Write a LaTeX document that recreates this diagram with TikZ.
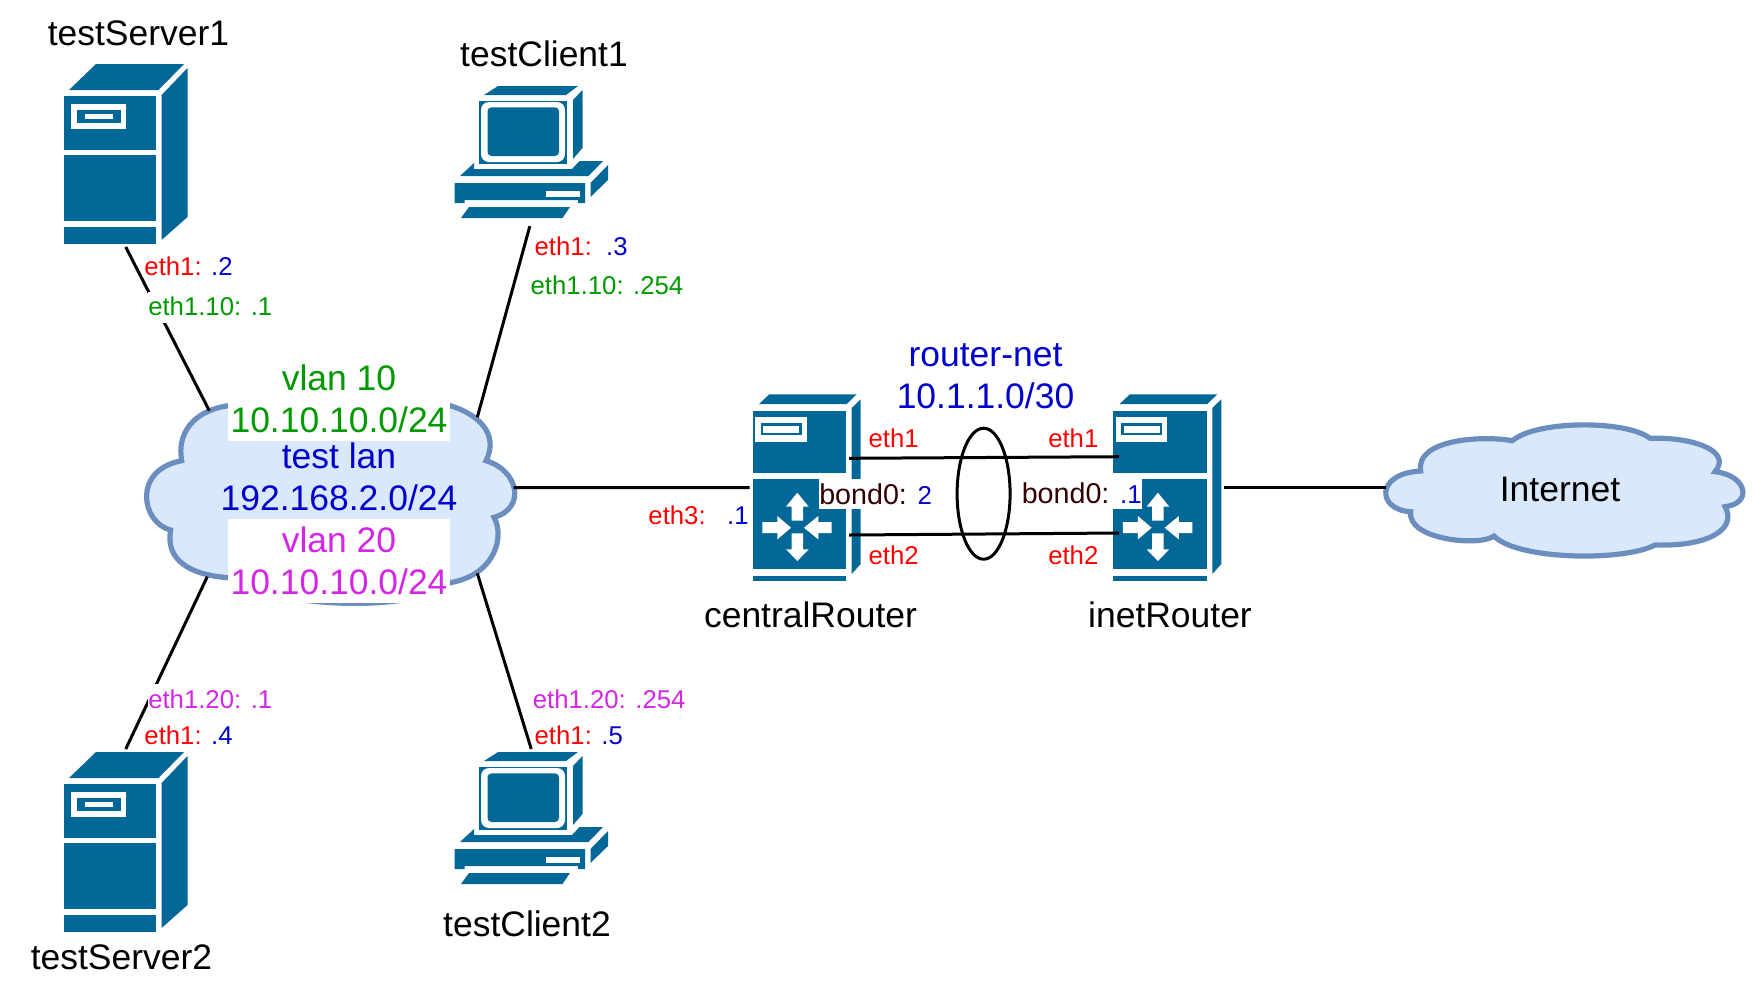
\documentclass[tikz,border=0pt]{standalone}
\usepackage{fontspec}
\setmainfont{Liberation Sans}
\definecolor{iconblue}{HTML}{036897}
\definecolor{cloudfill}{HTML}{DAE8FC}
\definecolor{cloudline}{HTML}{6C8EBF}
\definecolor{netgreen}{HTML}{009900}
\definecolor{netblue}{HTML}{0000CC}
\definecolor{netpink}{HTML}{D326E6}
\definecolor{bonddark}{HTML}{330000}
\newcommand{\bondvalue}[1]{\textcolor{netblue}{\fontsize{19.4pt}{23pt}\selectfont #1}}
\tikzset{
    link/.style={line width=2.25pt,black},
    cloudshape/.style={line width=3.9pt,draw=cloudline,fill=cloudfill},
    devbox/.style={inner sep=0pt,outer sep=2.25pt,minimum width=#1},
    bigtext/.style={inner sep=0pt,anchor=base,font=\fontsize{26.6pt}{30pt}\selectfont},
    smalltext/.style={inner sep=0pt,anchor=base west,font=\fontsize{19.3pt}{23pt}\selectfont},
    bondtext/.style={inner sep=0pt,anchor=base west,font=\fontsize{21.5pt}{25pt}\selectfont,fill=white,
        text height=18.4pt,text depth=3.75pt},
    server/.pic={
        \fill[iconblue] (5,26) -- (32,0) -- (120,0) -- (94.5,26) -- cycle;
        \fill[iconblue] (0,32) rectangle (92,86);
        \fill[iconblue] (0,91) rectangle (92,157);
        \fill[iconblue] (0,163) rectangle (92,180);
        \fill[iconblue] (97.6,31) -- (123.5,4) -- (123.5,153) -- (97.6,176) -- cycle;
        \fill[white] (7,40) rectangle (62,65);
        \fill[iconblue] (13,46) rectangle (56.5,58.7);
        \fill[white] (21,50) rectangle (48.5,55);
    },
    client/.pic={
        \fill[iconblue] (29.5,9) -- (43.5,0) -- (123.5,0) -- (111.5,9) -- cycle;
        \fill[iconblue] (24.5,15) rectangle (112.5,77.5);
        \fill[white,rounded corners=6pt] (26.5,16) rectangle (110.5,76);
        \fill[iconblue,rounded corners=3pt] (33,21.3) rectangle (104.5,70);
        \fill[iconblue] (118.5,14) -- (128,4) -- (128,62) -- (118.5,73) -- cycle;
        \fill[iconblue] (5.5,90) -- (19.5,77) -- (19.5,83) -- (117.5,83) -- (125,75) -- (148.5,75) -- (134,90) -- cycle;
        \fill[iconblue] (0,97) -- (130.5,97) -- (130.5,117) -- (123.5,117) -- (123.5,114) -- (10,114) -- (10,117) -- (0,117) -- cycle;
        \fill[white] (91,105) rectangle (125.5,111);
        \fill[iconblue] (136,97) -- (153.5,79) -- (153.5,94) -- (136,111) -- cycle;
        \fill[iconblue] (14.5,121) -- (115.5,121) -- (108,132) -- (6.5,132) -- cycle;
    },
    router/.pic={
        \fill[iconblue] (6.3,10) -- (16.6,0.3) -- (104,0.3) -- (94,10) -- cycle;
        \fill[iconblue] (0,16.7) rectangle (93.3,79.3);
        \fill[iconblue] (0,85.3) rectangle (93.3,175.3);
        \fill[iconblue] (0,181.7) rectangle (93.3,186.7);
        \fill[iconblue] (99,14) -- (108,5.3) -- (108,170) -- (99,180) -- cycle;
        \fill[white] (2.3,22.7) rectangle (54,47.7);
        \fill[iconblue] (8,29.3) rectangle (49,41);
        \fill[white] (10.6,32) rectangle (46.6,38.7);
        % four arrows
        \fill[white] (44.6,98.7) -- (56,112.7) -- (50.4,112.7) -- (50.4,126.7) -- (38.8,126.7) -- (38.8,112.7) -- (33.3,112.7) -- cycle;
        \fill[white] (38.8,139.3) -- (50.4,139.3) -- (50.4,155.3) -- (56,155.3) -- (44.6,167) -- (33.3,155.3) -- (38.8,155.3) -- cycle;
        \fill[white] (9.6,128.2) -- (24.6,128.2) -- (24.6,122) -- (38.3,133.7) -- (24.6,145.4) -- (24.6,139.2) -- (9.6,139.2) -- cycle;
        \fill[white] (51.3,133.7) -- (65.6,122) -- (65.6,128.2) -- (79,128.2) -- (79,139.2) -- (65.6,139.2) -- (65.6,145.4) -- cycle;
    },
}
\begin{document}
\begin{tikzpicture}[x=0.75pt,y=0.75pt,yscale=-1,xscale=1]
    \useasboundingbox (0,0) rectangle (1755,990);

    % clouds
    \draw[cloudshape] (181.7,460.7) .. controls (176.7,433.3) and (193.3,410.7) .. (228.3,405.7)
        .. controls (270,375) and (410,375) .. (450,405.7)
        .. controls (476.7,413.3) and (500,433.3) .. (486,460.7)
        .. controls (518.3,470) and (526.7,508.3) .. (494,517.3)
        .. controls (505,536.7) and (495,575) .. (450,582.7)
        .. controls (420,612) and (280,610) .. (228.3,577.7)
        .. controls (190,575) and (165,560) .. (170.7,530)
        .. controls (141.7,523.3) and (131.7,470) .. (181.7,460.7) -- cycle;
    \draw[cloudshape] (1420.7,471) .. controls (1415,440) and (1480,435) .. (1512.3,440.7)
        .. controls (1536.7,420) and (1626.7,420) .. (1650,438.3)
        .. controls (1690,436.7) and (1733.3,450) .. (1715,471.7)
        .. controls (1746.7,475) and (1753.3,503.3) .. (1725,506.7)
        .. controls (1736.7,526.7) and (1713.3,546.7) .. (1655,545)
        .. controls (1623.3,561.7) and (1516.7,560) .. (1494,536)
        .. controls (1480,546.7) and (1406.7,540) .. (1410.7,511.7)
        .. controls (1376.7,510) and (1375,473.3) .. (1420.7,471) -- cycle;

    % device boxes
    \node[devbox=92.6pt,minimum height=135pt] (testServer1) at (125.75,154) {};
    \node[devbox=92.6pt,minimum height=135pt] (testServer2) at (125.75,842) {};
    \node[devbox=115pt,minimum height=99pt] (testClient1) at (531.25,152) {};
    \node[devbox=115pt,minimum height=99pt] (testClient2) at (531.25,818) {};
    \node[devbox=81pt,minimum height=140.25pt] (centralRouter) at (806.7,487.5) {};
    \node[devbox=81pt,minimum height=140.25pt] (inetRouter) at (1167.3,487.5) {};
    \node[inner sep=0pt,minimum width=275pt,minimum height=174pt] (testLan) at (329.9,487.7) {};
    \node[inner sep=0pt,minimum width=271pt,minimum height=100pt] (internet) at (1567,487.5) {};

    % ports
    \coordinate (lanNW) at (209.3,410.7);
    \coordinate (lanNE) at (477.3,417.3);
    \coordinate (lanSW) at (207.3,576.7);
    \coordinate (lanSE) at (477.3,573.3);
    \coordinate (centralEth1) at (849,458.3);
    \coordinate (centralEth2) at (849,535);
    \coordinate (inetEth1) at (1119,456.7);
    \coordinate (inetEth2) at (1119,533);

    % links
    \draw[link] (testServer1.south) -- (lanNW);
    \draw[link,shorten <=4pt] (testClient1.south) -- (lanNE);
    \draw[link] (testServer2.north) -- (lanSW);
    \draw[link] (testClient2.north) -- (lanSE);
    \draw[link] (testLan.east) -- (centralRouter.west);
    \draw[link] (inetRouter.east) -- (internet.west);

    % icons
    \pic[yscale=-1] at (64,64) {server};
    \pic[yscale=-1] at (64,752) {server};
    \pic[yscale=-1] at (454.5,86) {client};
    \pic[yscale=-1] at (454.5,752) {client};
    \pic[yscale=-1] at (752.7,394) {router};
    \pic[yscale=-1] at (1113.3,394) {router};

    \draw[link] (centralEth1) -- (inetEth1);
    \draw[link] (centralEth2) -- (inetEth2);
    \draw[link] (983.6,493.7) ellipse (26.5 and 65.5);

    % host names
    \node[bigtext] (nameServer1) at (138.5,45.5) {testServer1};
    \node[bigtext] (nameClient1) at (544,66.7) {testClient1};
    \node[bigtext] (nameServer2) at (121.5,969.5) {testServer2};
    \node[bigtext] (nameClient2) at (527,936.5) {testClient2};
    \node[bigtext] (nameCentral) at (810.5,627) {centralRouter};
    \node[bigtext] (nameInet) at (1170,627) {inetRouter};
    \node[bigtext] (nameInternet) at (1560,501.7) {Internet};

    % networks
    \node[bigtext,text=netblue] (routerNet) at (985.5,366) {router-net};
    \node[bigtext,text=netblue] (routerNetAddr) at (985.5,408.3) {10.1.1.0/30};
    \node[bigtext,text=netgreen,fill=white,minimum width=166.5pt,text height=31pt,text depth=10.5pt] (vlanTen) at (339,390.3) {vlan 10};
    \node[bigtext,text=netgreen,fill=white,minimum width=166.5pt,text height=21.3pt,text depth=6pt] (vlanTenAddr) at (339,432.7) {10.10.10.0/24};
    \node[bigtext,text=netblue] (lanName) at (339,468.5) {test lan};
    \node[bigtext,text=netblue] (lanAddr) at (339,510.3) {192.168.2.0/24};
    \node[bigtext,text=netpink,fill=white,minimum width=166.5pt,text height=25.5pt,text depth=7.5pt] (vlanTwenty) at (339,552.7) {vlan 20};
    \node[bigtext,text=netpink,fill=white,minimum width=166.5pt,text height=23.5pt,text depth=6.5pt] (vlanTwentyAddr) at (339,594.3) {10.10.10.0/24};

    % interface labels
    \node[smalltext,text=red] (ifServerA) at (144.2,275.5) {eth1: \textcolor{netblue}{.2}};
    \node[smalltext,text=netgreen,fill=white,text height=18pt,text depth=5.25pt] (ifServerAVlan) at (148,315.5) {eth1.10: .1};
    \node[smalltext,text=red] (ifClientA) at (534.4,255.5) {eth1:\ \ \textcolor{netblue}{.3}};
    \node[smalltext,text=netgreen] (ifClientAVlan) at (530.4,294.5) {eth1.10: .254};
    \node[smalltext,text=netpink,fill=white,text height=18pt,text depth=5.25pt] (ifServerBVlan) at (148,708) {eth1.20: .1};
    \node[smalltext,text=red] (ifServerB) at (144.2,744) {eth1: \textcolor{netblue}{.4}};
    \node[smalltext,text=netpink] (ifClientBVlan) at (532.6,708) {eth1.20: .254};
    \node[smalltext,text=red] (ifClientB) at (534.4,744) {eth1: \textcolor{netblue}{.5}};
    \node[smalltext,text=red] (ifCentralLan) at (648.2,524.5) {eth3:\ \ \ \textcolor{netblue}{.1}};
    \node[smalltext,text=red] (ifCentralA) at (868.3,447) {eth1};
    \node[smalltext,text=red] (ifInetA) at (1048,447) {eth1};
    \node[smalltext,text=red] (ifCentralB) at (868.3,564) {eth2};
    \node[smalltext,text=red] (ifInetB) at (1048,564) {eth2};
    \node[bondtext,text=bonddark] (bondCentral) at (819,504) {bond0:\kern8pt\bondvalue{2}};
    \node[bondtext,text=bonddark] (bondInet) at (1021.5,503.5) {bond0: \bondvalue{.1}};
\end{tikzpicture}
\end{document}
